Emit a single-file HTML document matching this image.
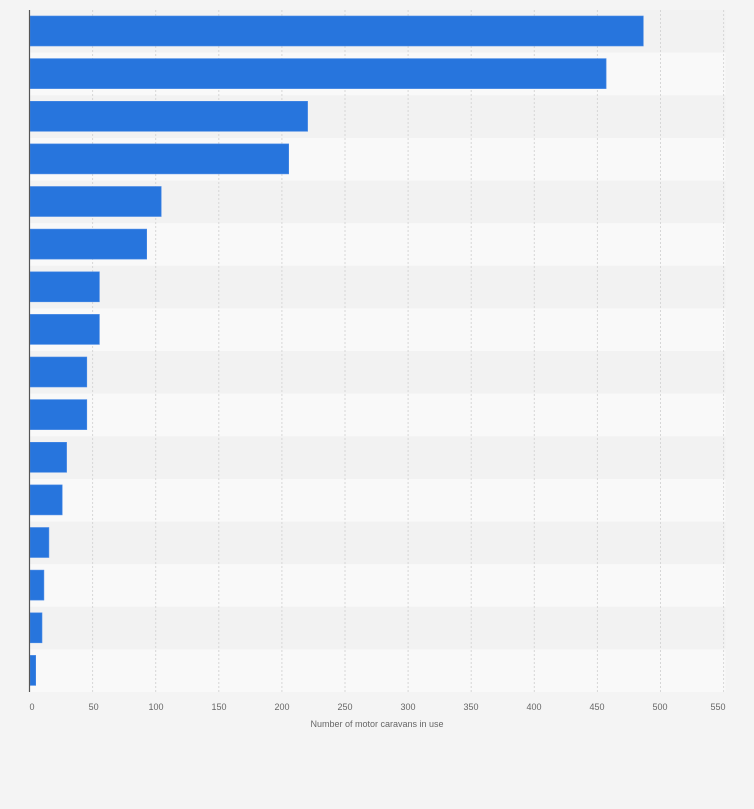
<!DOCTYPE html>
<html><head><style>
body{margin:0;background:#f4f4f4;}
svg{display:block;font-family:"Liberation Sans",sans-serif;}
</style></head><body>
<svg width="754" height="809" xmlns="http://www.w3.org/2000/svg">
<rect width="754" height="809" fill="#f4f4f4"/>
<g>
<rect x="29.5" y="10" width="696" height="42.6" fill="#f2f2f2"/>
<rect x="29.5" y="52.6" width="696" height="42.7" fill="#f9f9f9"/>
<rect x="29.5" y="95.3" width="696" height="42.6" fill="#f2f2f2"/>
<rect x="29.5" y="137.9" width="696" height="42.6" fill="#f9f9f9"/>
<rect x="29.5" y="180.5" width="696" height="42.6" fill="#f2f2f2"/>
<rect x="29.5" y="223.1" width="696" height="42.7" fill="#f9f9f9"/>
<rect x="29.5" y="265.8" width="696" height="42.6" fill="#f2f2f2"/>
<rect x="29.5" y="308.4" width="696" height="42.6" fill="#f9f9f9"/>
<rect x="29.5" y="351" width="696" height="42.6" fill="#f2f2f2"/>
<rect x="29.5" y="393.6" width="696" height="42.7" fill="#f9f9f9"/>
<rect x="29.5" y="436.3" width="696" height="42.6" fill="#f2f2f2"/>
<rect x="29.5" y="478.9" width="696" height="42.6" fill="#f9f9f9"/>
<rect x="29.5" y="521.5" width="696" height="42.6" fill="#f2f2f2"/>
<rect x="29.5" y="564.1" width="696" height="42.7" fill="#f9f9f9"/>
<rect x="29.5" y="606.8" width="696" height="42.6" fill="#f2f2f2"/>
<rect x="29.5" y="649.4" width="696" height="42.6" fill="#f9f9f9"/>
</g>
<g stroke="#d6d6d6" stroke-width="1" stroke-dasharray="2,2">
<line x1="92.6" y1="10" x2="92.6" y2="692"/>
<line x1="155.7" y1="10" x2="155.7" y2="692"/>
<line x1="218.8" y1="10" x2="218.8" y2="692"/>
<line x1="281.9" y1="10" x2="281.9" y2="692"/>
<line x1="345" y1="10" x2="345" y2="692"/>
<line x1="408.1" y1="10" x2="408.1" y2="692"/>
<line x1="471.2" y1="10" x2="471.2" y2="692"/>
<line x1="534.3" y1="10" x2="534.3" y2="692"/>
<line x1="597.4" y1="10" x2="597.4" y2="692"/>
<line x1="660.5" y1="10" x2="660.5" y2="692"/>
<line x1="723.6" y1="10" x2="723.6" y2="692"/>
</g>
<g fill="#2775dd" stroke="#4a8ae6" stroke-width="0.6">
<rect x="30" y="16" width="613.3" height="30"/>
<rect x="30" y="58.6" width="576.1" height="30"/>
<rect x="30" y="101.3" width="277.6" height="30"/>
<rect x="30" y="143.9" width="258.7" height="30"/>
<rect x="30" y="186.5" width="131.2" height="30"/>
<rect x="30" y="229.1" width="116.7" height="30"/>
<rect x="30" y="271.8" width="69.4" height="30"/>
<rect x="30" y="314.4" width="69.4" height="30"/>
<rect x="30" y="357" width="56.8" height="30"/>
<rect x="30" y="399.6" width="56.8" height="30"/>
<rect x="30" y="442.3" width="36.6" height="30"/>
<rect x="30" y="484.9" width="32.2" height="30"/>
<rect x="30" y="527.5" width="18.9" height="30"/>
<rect x="30" y="570.1" width="13.9" height="30"/>
<rect x="30" y="612.8" width="12" height="30"/>
<rect x="30" y="655.4" width="5.7" height="30"/>
</g>
<line x1="29.5" y1="10" x2="29.5" y2="692" stroke="#555" stroke-width="1.2"/>
<g font-size="9" fill="#666" text-anchor="middle">
<text x="32" y="710">0</text>
<text x="93.6" y="710">50</text>
<text x="156" y="710">100</text>
<text x="219" y="710">150</text>
<text x="282" y="710">200</text>
<text x="345" y="710">250</text>
<text x="408" y="710">300</text>
<text x="471" y="710">350</text>
<text x="534" y="710">400</text>
<text x="597" y="710">450</text>
<text x="660" y="710">500</text>
<text x="718" y="710">550</text>
</g>
<text x="377" y="727" font-size="9" fill="#666" text-anchor="middle">Number of motor caravans in use</text>
</svg>
</body></html>
